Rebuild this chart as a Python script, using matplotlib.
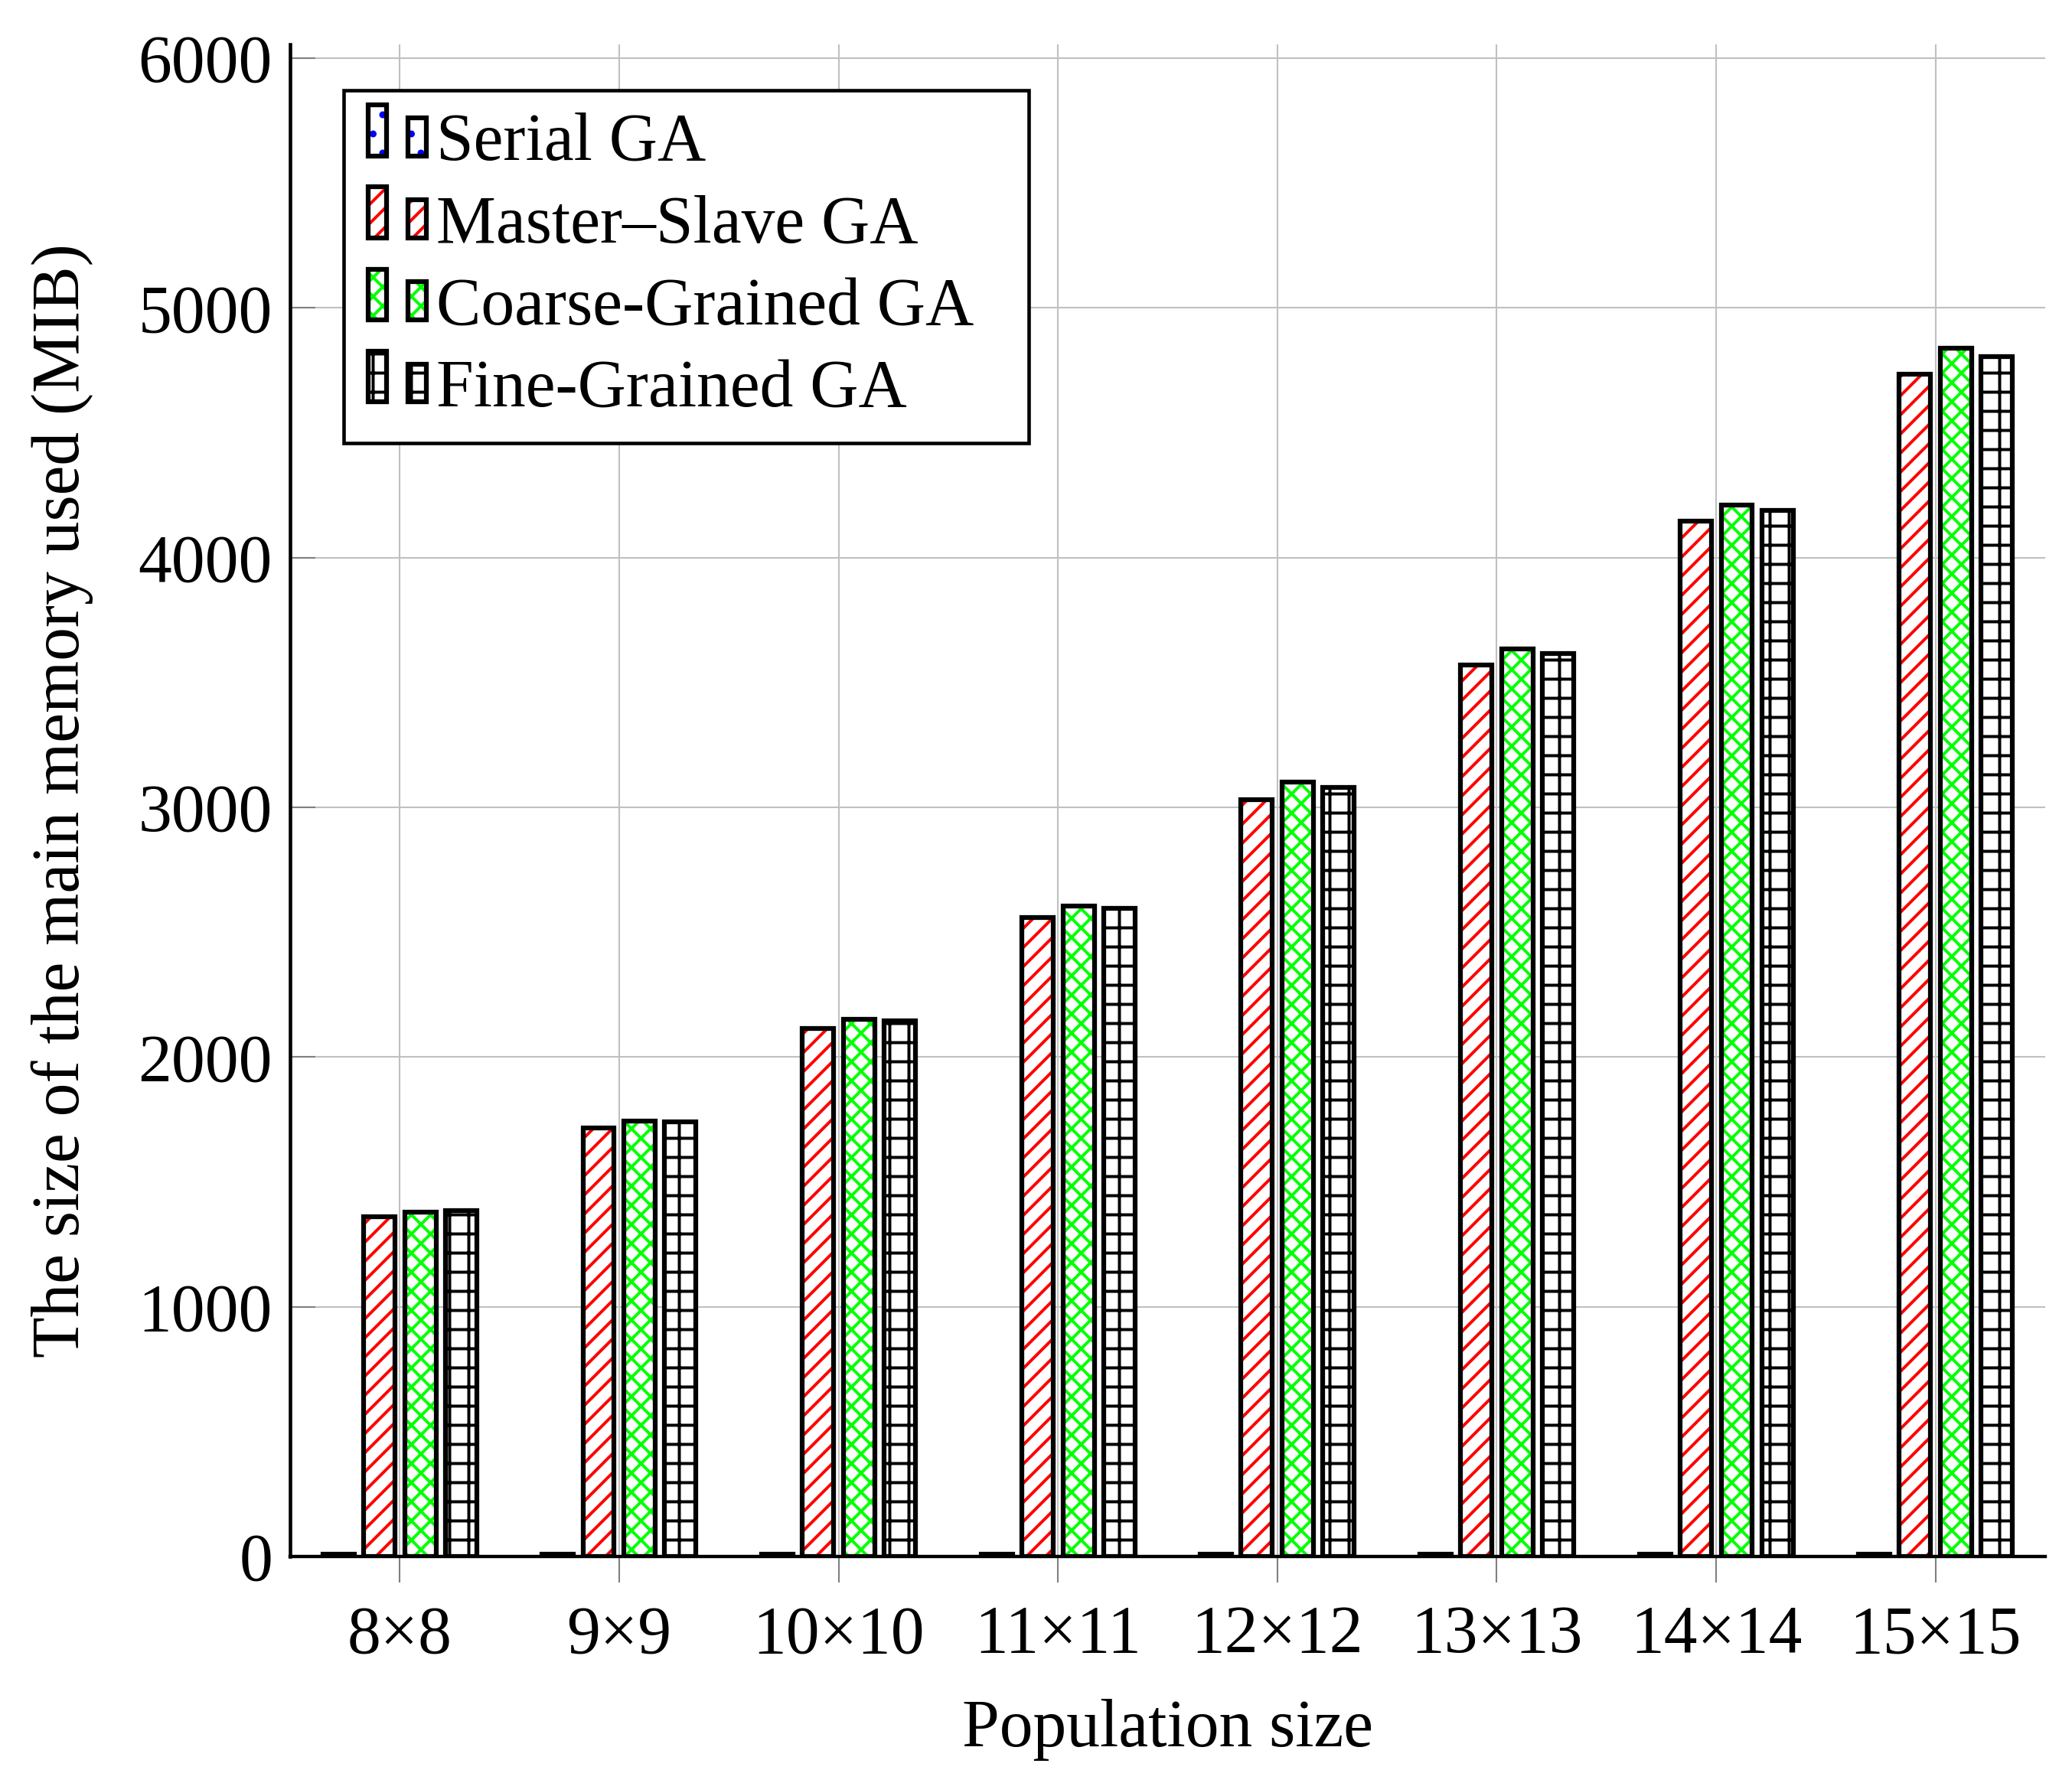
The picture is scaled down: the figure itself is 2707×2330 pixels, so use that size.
import numpy as np
import matplotlib
matplotlib.use('Agg')
import matplotlib.pyplot as plt
from matplotlib.patches import Rectangle
from matplotlib.legend_handler import HandlerBase

# data (MiB)
sizes = ['8×8', '9×9', '10×10', '11×11', '12×12', '13×13', '14×14', '15×15']
serial_ga = [10, 10, 10, 10, 10, 10, 10, 10]
master_slave_ga = [1360, 1715, 2115, 2560, 3030, 3570, 4145, 4735]
coarse_grained_ga = [1380, 1745, 2150, 2605, 3100, 3635, 4210, 4840]
fine_grained_ga = [1385, 1740, 2145, 2595, 3080, 3615, 4190, 4805]

names = ['Serial GA', 'Master–Slave GA', 'Coarse-Grained GA', 'Fine-Grained GA']
colors = ['#0000ff', '#ff0000', '#00ff00', '#000000']
hatches = ['.', '//', 'xx', '+']
series = [serial_ga, master_slave_ga, coarse_grained_ga, fine_grained_ga]

DPI = 150
FS = 42
plt.rcParams['font.family'] = ['Liberation Serif', 'DejaVu Serif']
plt.rcParams['hatch.linewidth'] = 1.9

fig = plt.figure(figsize=(2707 / DPI, 2330 / DPI), dpi=DPI)
ax = fig.add_axes([379 / 2707, 1 - 2034 / 2330, (2672 - 379) / 2707, (2034 - 58) / 2330])

x = np.arange(len(sizes))
offsets = [-0.279, -0.094, 0.094, 0.279]
bw = 0.143
lw_bar = 3.0

for vals, off, col, hat in zip(series, offsets, colors, hatches):
    ax.bar(x + off, vals, bw, facecolor='white', edgecolor=col, hatch=hat, linewidth=0, zorder=2)
    ax.bar(x + off, vals, bw, fill=False, edgecolor='black', linewidth=lw_bar, zorder=3)

ax.set_xlim(-0.5, 7.5)
ax.set_ylim(0, 6055)
ax.set_xticks(x)
ax.set_xticklabels(sizes)
ax.set_yticks(np.arange(0, 6001, 1000))

ax.spines['top'].set_visible(False)
ax.spines['right'].set_visible(False)
ax.spines['left'].set_linewidth(2.2)
ax.spines['bottom'].set_linewidth(2.1)
ax.spines['left'].set_zorder(4)
ax.spines['bottom'].set_zorder(4)

ax.set_axisbelow(True)
ax.grid(True, color='#c0c0c0', linewidth=1.0)
ax.tick_params(axis='x', direction='out', length=16.3, width=1.0, color='#808080',
               labelsize=FS, pad=14)
ax.tick_params(axis='y', direction='in', length=16, width=1.0, color='#808080',
               labelsize=FS, pad=11)

ax.set_xlabel('Population size', fontsize=FS)
ax.set_ylabel('The size of the main memory used (MIB)', fontsize=FS)
ax.xaxis.set_label_coords(0.5, -0.094)
ax.yaxis.set_label_coords(-0.112, 0.5)


class TwoBarHandler(HandlerBase):
    # legend image: two small bars side by side, like pgfplots ybar legend
    def create_artists(self, legend, orig_handle, xdescent, ydescent, width, height, fontsize, trans):
        col = orig_handle.get_edgecolor()
        hat = orig_handle.get_hatch()
        out = []
        for x0, h in [(0.035, 0.76), (0.63, 0.57)]:
            r1 = Rectangle((x0 * fontsize, 0.06 * fontsize), 0.27 * fontsize, h * fontsize,
                           facecolor='white', edgecolor=col, hatch=hat, linewidth=0, transform=trans)
            r2 = Rectangle((x0 * fontsize, 0.06 * fontsize), 0.27 * fontsize, h * fontsize,
                           fill=False, edgecolor='black', linewidth=lw_bar, transform=trans)
            out += [r1, r2]
        return out


proxies = [Rectangle((0, 0), 1, 1, facecolor='white', edgecolor=c, hatch=h) for c, h in zip(colors, hatches)]
leg = ax.legend(proxies, names, handler_map={Rectangle: TwoBarHandler()},
                loc='upper left', mode='expand',
                bbox_to_anchor=(449 / 2707, 1 - 577 / 2330, (1344 - 449) / 2707, (577 - 118) / 2330),
                bbox_transform=fig.transFigure, borderaxespad=0,
                fontsize=FS, handlelength=0.9, handletextpad=0.15, labelspacing=0.3,
                borderpad=0.33, fancybox=False, framealpha=1, edgecolor='black')
leg.get_frame().set_linewidth(2.2)

fig.savefig('out.png', dpi=DPI)
